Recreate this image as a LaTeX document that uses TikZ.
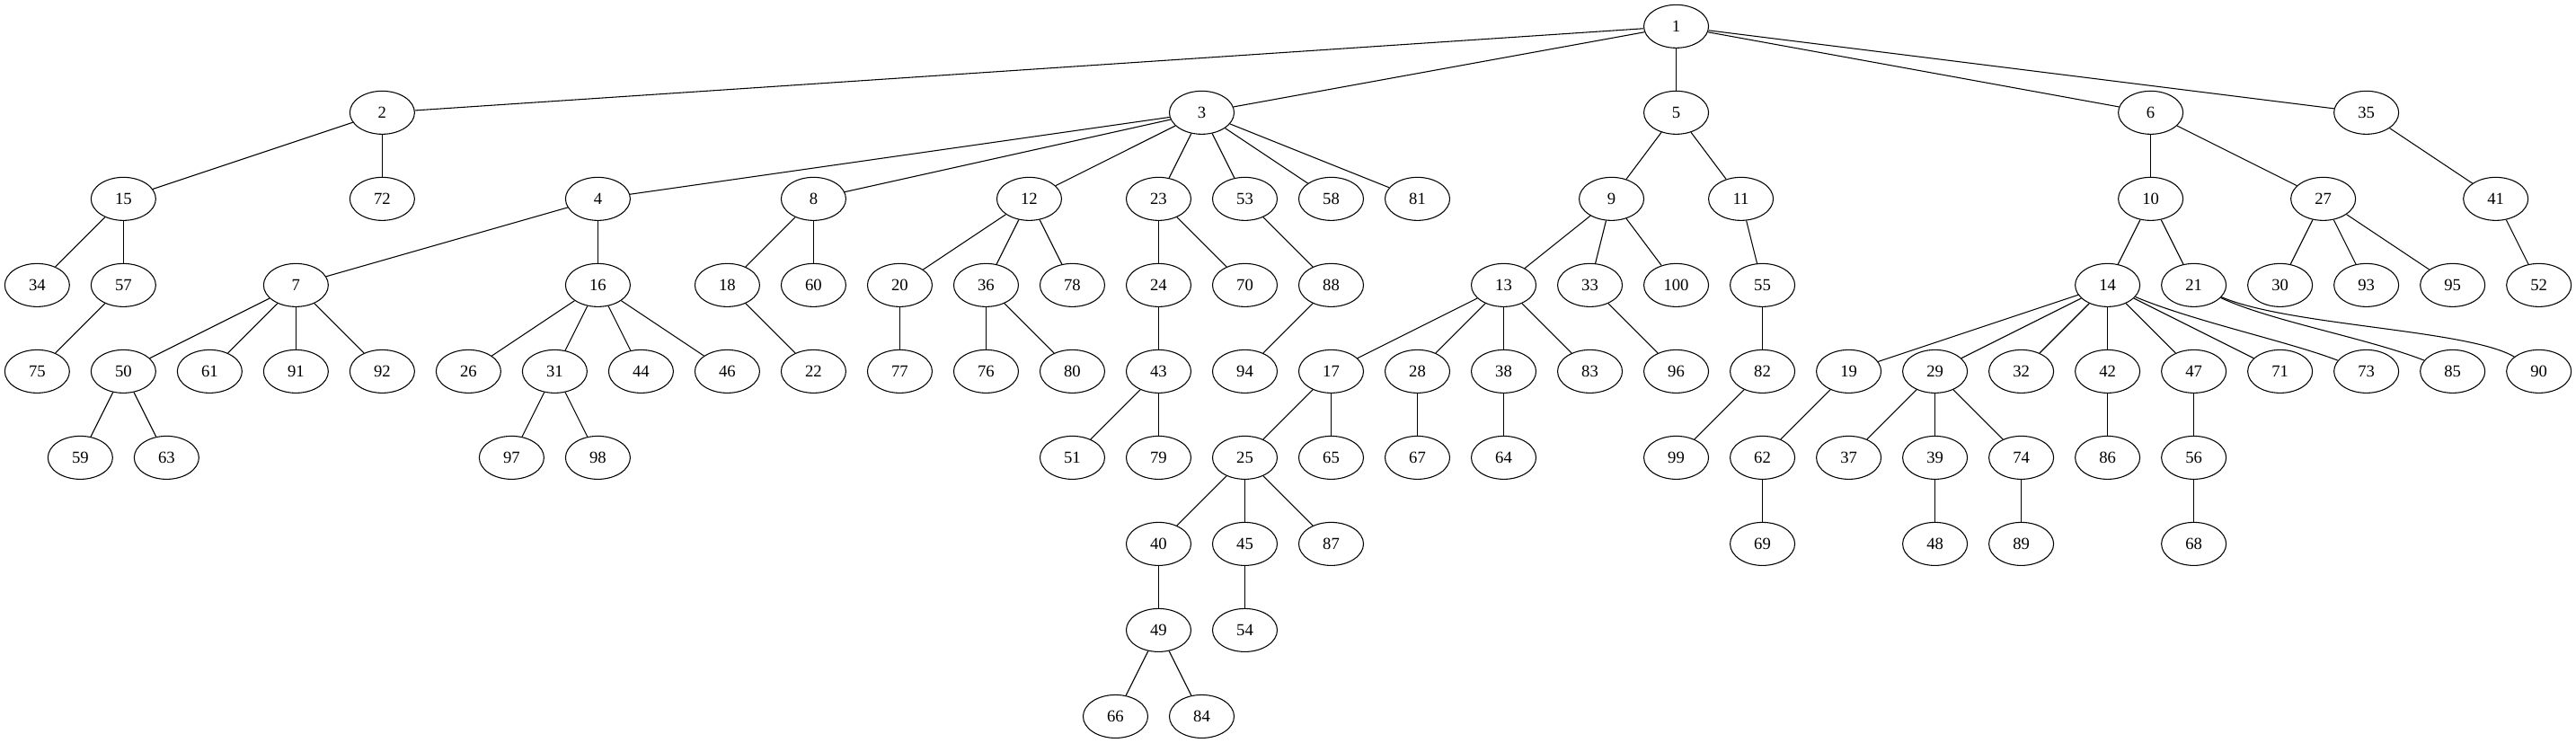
\documentclass[tikz,border=0pt]{standalone}
\usepackage{fontspec}
\setmainfont{Liberation Serif}
\usetikzlibrary{shapes.geometric}
\tikzset{
  nd/.style={draw, ellipse, line width=0.8pt, minimum width=54pt, minimum height=36pt, inner sep=0pt, font=\fontsize{14}{16}\selectfont},
  ed/.style={line width=0.8pt}
}
\begin{document}
\begin{tikzpicture}[x=1pt,y=-1pt]
\useasboundingbox (0,0) rectangle (2150,620);
% level 0
\foreach \n/\x in {1/1399} \node[nd] (n\n) at (\x,22) {\n};
% level 1
\foreach \n/\x in {2/319,3/1003,5/1399,6/1795,35/1975} \node[nd] (n\n) at (\x,94) {\n};
% level 2
\foreach \n/\x in {15/103,72/319,4/499,8/679,12/859,23/967,53/1039,58/1111,81/1183,9/1345,11/1453,10/1795,27/1939,41/2083} \node[nd] (n\n) at (\x,166) {\n};
% level 3
\foreach \n/\x in {34/31,57/103,7/247,16/499,18/607,60/679,20/751,36/823,78/895,24/967,70/1039,88/1111,13/1255,33/1327,100/1399,55/1471,14/1759,21/1831,30/1903,93/1975,95/2047,52/2119} \node[nd] (n\n) at (\x,238) {\n};
% level 4
\foreach \n/\x in {75/31,50/103,61/175,91/247,92/319,26/391,31/463,44/535,46/607,22/679,77/751,76/823,80/895,43/967,94/1039,17/1111,28/1183,38/1255,83/1327,96/1399,82/1471,19/1543,29/1615,32/1687,42/1759,47/1831,71/1903,73/1975,85/2047,90/2119} \node[nd] (n\n) at (\x,310) {\n};
% level 5
\foreach \n/\x in {59/67,63/139,97/427,98/499,51/895,79/967,25/1039,65/1111,67/1183,64/1255,99/1399,62/1471,37/1543,39/1615,74/1687,86/1759,56/1831} \node[nd] (n\n) at (\x,382) {\n};
% level 6
\foreach \n/\x in {40/967,45/1039,87/1111,69/1471,48/1615,89/1687,68/1831} \node[nd] (n\n) at (\x,454) {\n};
% level 7
\foreach \n/\x in {49/967,54/1039} \node[nd] (n\n) at (\x,526) {\n};
% level 8
\foreach \n/\x in {66/931,84/1003} \node[nd] (n\n) at (\x,598) {\n};
% straight edges
\foreach \a/\b in {1/2,1/3,1/5,1/6,1/35,
  2/15,2/72,15/34,15/57,57/75,
  3/4,3/8,3/12,3/23,3/53,3/58,3/81,
  4/7,4/16,7/50,7/61,7/91,7/92,50/59,50/63,
  16/26,16/31,16/44,16/46,31/97,31/98,
  8/18,8/60,18/22,12/20,12/36,12/78,20/77,36/76,36/80,
  23/24,23/70,24/43,43/51,43/79,
  53/88,88/94,
  5/9,5/11,9/13,9/33,9/100,13/17,13/28,13/38,13/83,
  17/25,17/65,25/40,25/45,25/87,40/49,49/66,49/84,45/54,
  28/67,38/64,33/96,11/55,55/82,82/99,
  6/10,6/27,10/14,10/21,
  14/19,14/29,14/32,14/42,14/47,14/71,
  19/62,62/69,29/37,29/39,29/74,39/48,74/89,42/86,47/56,56/68,
  27/30,27/93,27/95,35/41,41/52}
  \draw[ed] (n\a) -- (n\b);
% curved edges
\draw[ed] (n14) .. controls (1830,268) and (1910,285) .. (n73);
\draw[ed] (n21) .. controls (1895,268) and (1975,282) .. (n85);
\draw[ed] (n21) .. controls (1910,272) and (2060,275) .. (n90);
\end{tikzpicture}
\end{document}
